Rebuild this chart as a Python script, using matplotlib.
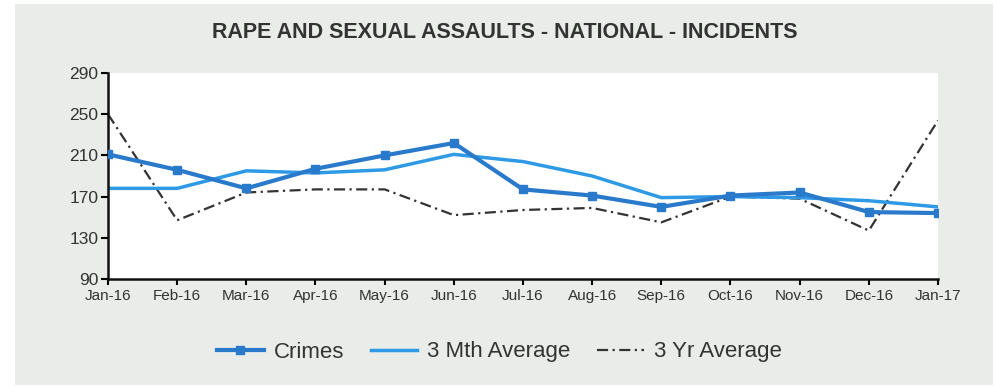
import matplotlib
matplotlib.use("Agg")
import matplotlib.pyplot as plt
from matplotlib.patches import Rectangle

# Данные
months = ["Jan-16", "Feb-16", "Mar-16", "Apr-16", "May-16", "Jun-16", "Jul-16",
          "Aug-16", "Sep-16", "Oct-16", "Nov-16", "Dec-16", "Jan-17"]
crimes = [211, 196, 178, 197, 210, 222, 177, 171, 160, 171, 174, 155, 154]
avg_3mth = [178, 178, 195, 193, 196, 211, 204, 190, 169, 170, 169, 166, 160]
avg_3yr = [250, 147, 174, 177, 177, 152, 157, 159, 145, 170, 168, 137, 244]

plt.rcParams['font.family'] = ['Liberation Sans', 'DejaVu Sans']

fig = plt.figure(figsize=(9.95, 3.88), dpi=100)
fig.patch.set_facecolor('white')
# серая подложка
fig.patches.append(Rectangle((15 / 995, 3 / 388), 978 / 995, 381 / 388,
                             transform=fig.transFigure, facecolor='#e9ece9',
                             edgecolor='none', zorder=-1))

ax = fig.add_axes([108 / 995, 1 - 279 / 388, 830 / 995, 206 / 388])
ax.set_facecolor('white')

x = range(len(months))
ax.plot(x, crimes, '-s', color='#2a7acb', lw=3, ms=6, label='Crimes', zorder=3)
ax.plot(x, avg_3mth, '-', color='#2e9ae6', lw=2.5, label='3 Mth Average', zorder=2)
ax.plot(x, avg_3yr, color='#333333', lw=1.6, dashes=(5, 2, 1, 2),
        label='3 Yr Average', zorder=1)

ax.set_xlim(0, len(months) - 1)
ax.set_ylim(90, 290)
ax.set_yticks([90, 130, 170, 210, 250, 290])
ax.set_xticks(list(x))
ax.set_xticklabels(months)

for s in ['top', 'right']:
    ax.spines[s].set_visible(False)
for s in ['left', 'bottom']:
    ax.spines[s].set_linewidth(1.8)
    ax.spines[s].set_color('#111111')
ax.tick_params(axis='y', length=5, width=1.5, labelsize=12.5, labelcolor='#333333', pad=2)
ax.tick_params(axis='x', length=4, width=1.5, labelsize=11, labelcolor='#333333', pad=3)

fig.text(0.507, 1 - 33 / 388, 'RAPE AND SEXUAL ASSAULTS - NATIONAL - INCIDENTS',
         ha='center', va='center', fontsize=15.5, fontweight='bold', color='#333333')

fig.legend(loc='center', bbox_to_anchor=(0.502, 1 - 352 / 388), ncol=3, frameon=False,
           fontsize=16, handlelength=2.1, handletextpad=0.45, columnspacing=1.2,
           labelcolor='#333333')

fig.savefig('out.png', dpi=100)
